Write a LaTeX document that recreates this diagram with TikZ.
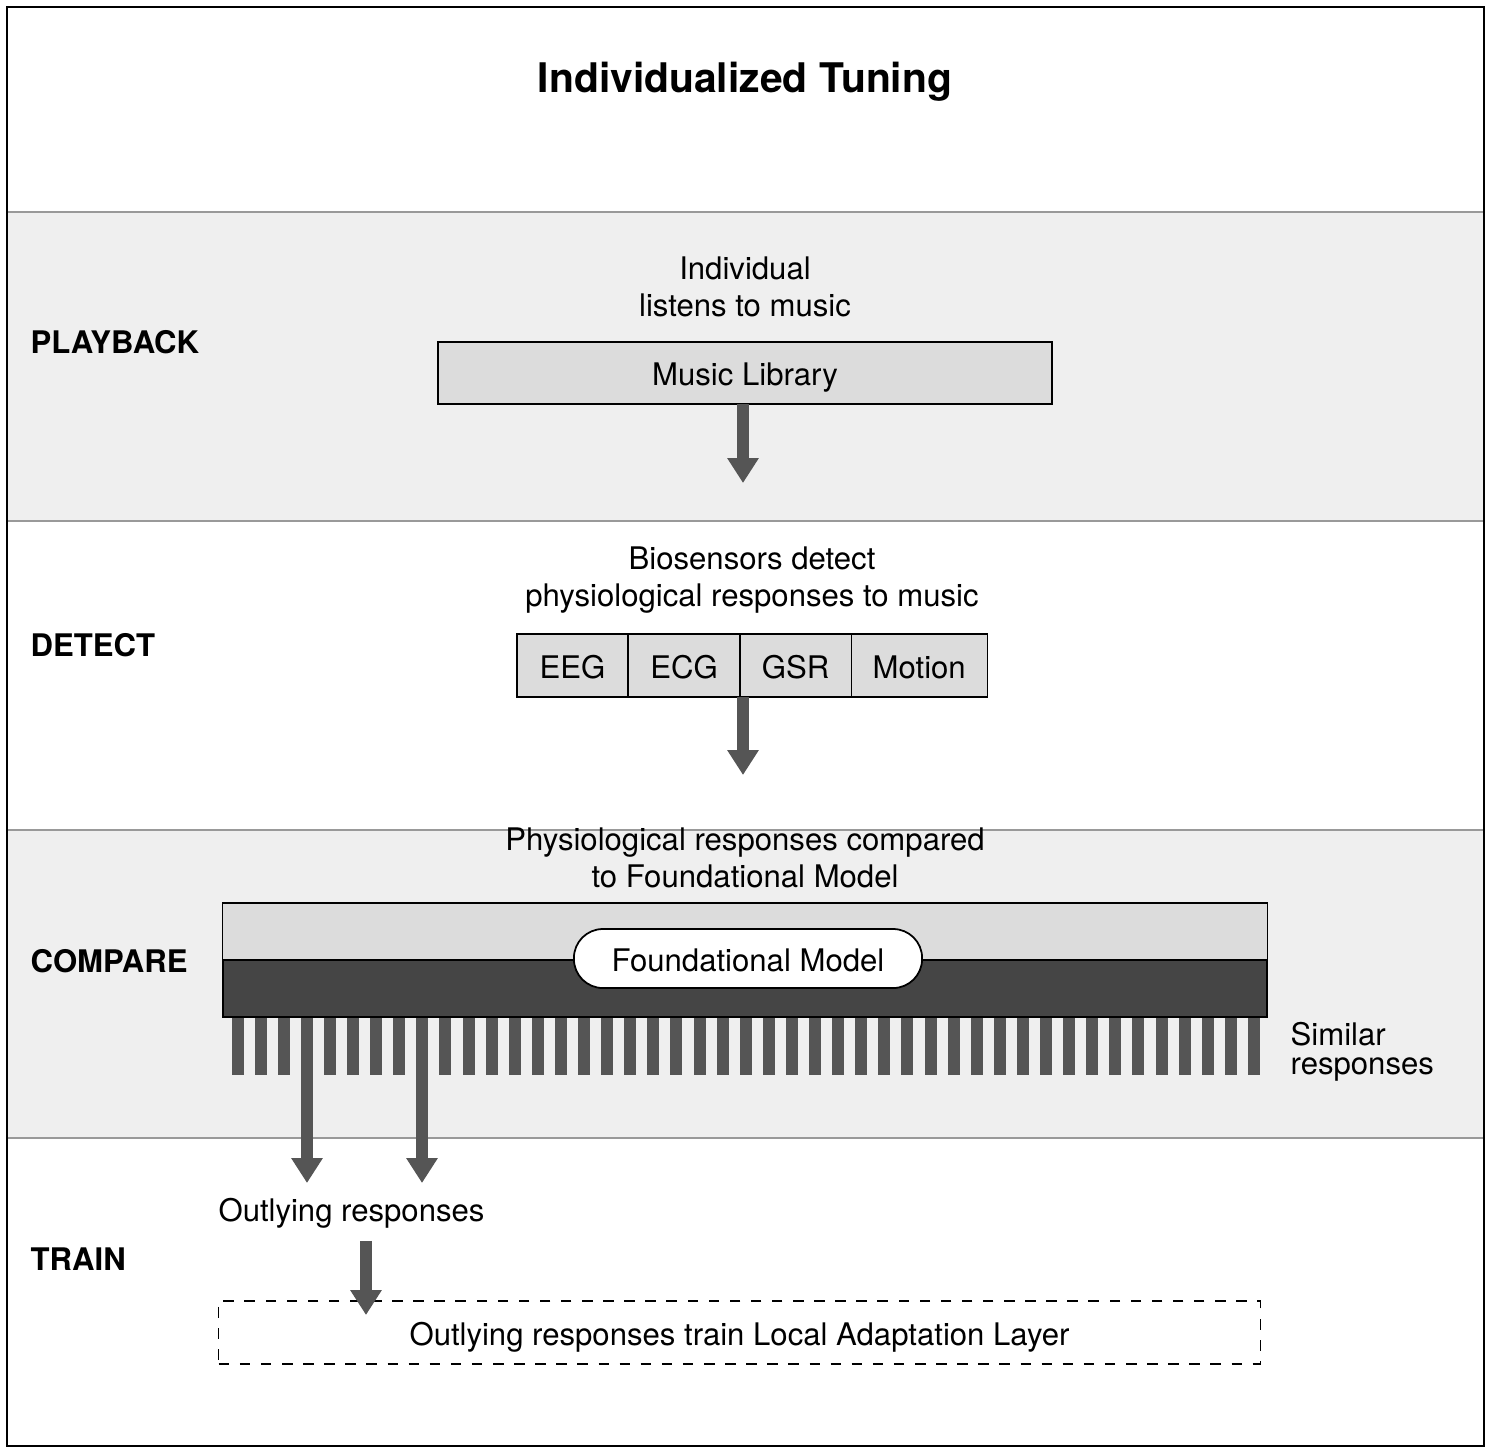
\documentclass[tikz,border=0pt]{standalone}
\usepackage{fontspec}
\setmainfont{TeX Gyre Heros}
\usetikzlibrary{arrows.meta,positioning}

\definecolor{bandgray}{HTML}{EFEFEF}
\definecolor{boxgray}{HTML}{DCDCDC}
\definecolor{darkbar}{HTML}{454545}
\definecolor{arrowgray}{HTML}{555555}

\tikzset{
  txt/.style={font=\fontsize{8.85}{10.5}\selectfont, align=center, inner sep=0pt},
  lbl/.style={font=\fontsize{8.85}{10.5}\selectfont\bfseries, anchor=west, inner sep=0pt},
  greybox/.style={draw=black, line width=0.4pt, fill=boxgray, inner sep=0pt, outer sep=0pt,
    text height=0.72em, text depth=0pt, font=\fontsize{8.85}{10.5}\selectfont},
  sensor/.style={greybox, minimum height=0.63cm, anchor=west},
  bigarrow/.style={draw=arrowgray, line width=0.12cm,
    -{Triangle[width=0.3cm,length=0.25cm]}},
  divider/.style={draw=black!40, line width=0.45pt}
}

\begin{document}
\begin{tikzpicture}[x=0.01cm,y=-0.01cm]
        \useasboundingbox (0,0) rectangle (1491,1453);

        % bands
        \fill[bandgray] (7,212) rectangle (1484,521);
        \fill[bandgray] (7,830) rectangle (1484,1138);
        \foreach \y in {212,521,830,1138}
            \draw[divider] (7,\y) -- (1484,\y);
        \draw[line width=0.6pt] (7,7) rectangle (1484,1446);

        \node[font=\fontsize{11.6}{14}\selectfont\bfseries] (title) at (745,82) {Individualized Tuning};

        % playback
        \node[lbl] (play) at (30,342) {PLAYBACK};
        \node[txt] (listen) at (745,287) {Individual\\listens to music};
        \node[greybox, minimum width=6.14cm, minimum height=0.62cm] (lib) at (745,373) {Music Library};
        \coordinate (libtip) at (743,483);
        \draw[bigarrow] (lib.south -| libtip) -- (libtip);

        % detect
        \node[lbl] (detect) at (30,645) {DETECT};
        \node[txt] (bio) at (752,580) {Biosensors detect\\physiological responses to music};
        \node[sensor, minimum width=1.11cm] (eeg) at (517,665.5) {EEG};
        \node[sensor, minimum width=1.12cm] (ecg) at (eeg.east) {ECG};
        \node[sensor, minimum width=1.11cm] (gsr) at (ecg.east) {GSR};
        \node[sensor, minimum width=1.36cm] (motion) at (gsr.east) {Motion};
        \coordinate (senstip) at (743,775);
        \draw[bigarrow] (gsr.south -| senstip) -- (senstip);

        % compare
        \node[lbl] (compare) at (30,961) {COMPARE};
        \node[txt] (cmp) at (745,858) {Physiological responses compared\\to Foundational Model};
        \node[greybox, minimum width=10.44cm, minimum height=0.57cm] (fmtop) at (745,931.5) {};
        \node[draw=black, line width=0.6pt, fill=darkbar, inner sep=0pt,
              minimum width=10.44cm, minimum height=0.57cm] (fmbase) at (745,988.5) {};
        \node[draw=black, line width=0.5pt, fill=white, rounded corners=0.29cm,
              minimum width=3.48cm, minimum height=0.59cm, inner sep=0pt,
              text height=0.72em, text depth=0pt,
              font=\fontsize{8.85}{10.5}\selectfont] (fm) at (748,958.5) {Foundational Model};
        \foreach \i in {0,...,44}
            \fill[arrowgray] ({231.5+23.1*\i},1018) rectangle ++(12,57);
        \node[txt, align=left, anchor=west, font=\fontsize{8.85}{8.2}\selectfont] (similar) at (1290,1052) {Similar\\responses};
        \coordinate (out1) at (307,1183);
        \coordinate (out2) at (422,1183);
        \draw[bigarrow] (fmbase.south -| out1) -- (out1);
        \draw[bigarrow] (fmbase.south -| out2) -- (out2);

        % train
        \node[lbl] (train) at (30,1259) {TRAIN};
        \node[txt] (outl) at (351.5,1213) {Outlying responses};
        \node[draw=black, dashed, line width=0.4pt, minimum width=10.41cm, minimum height=0.63cm,
              inner sep=0pt, text height=0.72em, text depth=0pt,
              font=\fontsize{8.85}{10.5}\selectfont] (local) at (739.5,1332.5)
              {Outlying responses train Local Adaptation Layer};
        \coordinate (traintip) at (366,1315);
        \draw[bigarrow] ([yshift=-0.12cm]outl.south -| traintip) -- (traintip);
\end{tikzpicture}
\end{document}
